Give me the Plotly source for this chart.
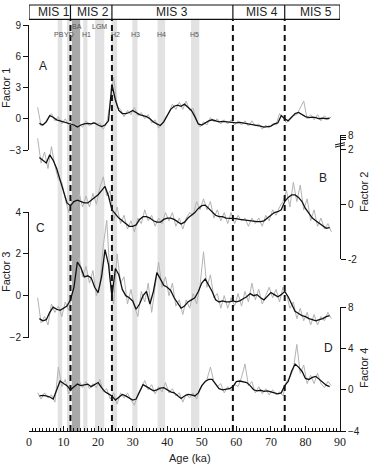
import plotly.graph_objects as go

# ---------------- data ----------------
AGE_SMOOTH = list(range(3, 88))
AGE_RAW = [a + 0.5 for a in range(2, 88)]

F1_SMOOTH = [-0.45, -0.6, -0.3, 0.3, 0.15, -0.1, -0.2, -0.3, -0.35, -0.45,
             -0.6, -0.8, -0.6, -0.5, -0.45, -0.5, -0.4, -0.6, -0.75, -0.6,
             -0.2, 3.3, 1.8, 0.8, 0.5, 0.5, 0.6, 0.8, 0.6, 0.4,
             0.3, 0.2, 0.0, -0.3, -0.5, -0.65, -0.3, 0.3, 0.9, 1.2,
             1.3, 1.2, 1.4, 1.1, 0.8, 0.2, -0.5, -0.6, -0.4, -0.2,
             -0.1, -0.2, -0.3, -0.25, -0.3, -0.3, -0.35, -0.4, -0.35, -0.4,
             -0.45, -0.5, -0.55, -0.6, -0.7, -0.8, -0.75, -0.7, -0.5, -0.4,
             0.3, 0.0, -0.2, 0.2, 0.5, 0.6, 0.4, 0.2, 0.1, 0.15,
             0.1, 0.0, 0.05, 0.0, 0.05]
F1_RAW = [1.1, -0.7, -0.4, 0.1, 0.5, -0.2, 0.2, -0.5, 0.0, -0.6,
          -0.2, -1.0, -0.5, -0.8, -0.2, -0.7, -0.3, -0.6, -0.4, -1.0,
          -0.4, 1.5, 4.0, 1.2, 0.9, 0.2, 0.8, 0.4, 1.1, 0.3,
          0.6, 0.0, 0.4, -0.4, -0.1, -0.9, -0.4, 0.1, 0.6, 1.4,
          0.9, 1.6, 0.9, 1.7, 0.8, 1.0, -0.2, -0.8, -0.3, -0.6,
          0.1, -0.3, 0.0, -0.5, -0.1, -0.5, -0.1, -0.6, -0.2, -0.6,
          -0.2, -0.7, -0.2, -0.7, -0.5, -1.0, -0.6, -0.9, -0.5, -0.6,
          0.5, 0.1, -0.4, 0.1, 0.3, 0.4, 1.0, 1.7, 0.0, 0.4,
          -0.1, 0.4, -0.2, 0.3, -0.1, 0.2]

F2_SMOOTH = [1.7, 1.6, 1.5, 1.8, 1.6, 1.3, 0.9, 0.5, 0.05, -0.05,
             0.1, 0.15, 0.1, 0.05, 0.05, 0.15, 0.25, 0.35, 0.5, 0.65,
             0.3, -0.2, -0.35, -0.5, -0.6, -0.7, -0.8, -0.8, -0.75, -0.55,
             -0.45, -0.45, -0.5, -0.6, -0.65, -0.65, -0.55, -0.5, -0.5, -0.55,
             -0.65, -0.72, -0.65, -0.5, -0.4, -0.3, -0.15, -0.05, -0.03, -0.15,
             -0.3, -0.4, -0.45, -0.45, -0.5, -0.5, -0.5, -0.52, -0.55, -0.57,
             -0.57, -0.6, -0.62, -0.63, -0.63, -0.6, -0.5, -0.4, -0.3, -0.27,
             -0.2, 0.1, 0.25, 0.34, 0.34, 0.25, 0.1, -0.15, -0.33, -0.5,
             -0.6, -0.69, -0.8, -0.87, -0.85]
F2_RAW = [2.4, 1.5, 1.9, 1.3, 2.1, 1.4, 0.9, 0.8, 0.2, -0.3,
          0.2, -0.1, 0.4, -0.1, 0.3, -0.1, 0.4, 0.0, 0.6, 1.0,
          0.3, 0.5, -0.6, -0.1, -0.7, -0.4, -0.9, -0.6, -1.0, -0.5,
          -0.7, -0.2, -0.6, -0.4, -0.8, -0.5, -0.7, -0.3, -0.6, -0.3,
          -0.8, -0.5, -0.9, -0.5, -0.3, -0.4, 0.1, -0.2, 0.2, -0.2,
          0.1, -0.5, -0.2, -0.6, -0.3, -0.7, -0.3, -0.7, -0.4, -0.6,
          -0.5, -0.8, -0.5, -0.7, -0.5, -0.8, -0.4, -0.6, -0.2, -0.4,
          -0.1, 0.1, 0.5, -0.1, 0.8, 0.1, 0.7, -0.2, 0.2, -0.6,
          -0.2, -0.8, -0.5, -0.9, -0.7, -1.0]

F3_SMOOTH = [-1.1, -1.2, -1.15, -0.8, -0.55, -0.65, -0.7, -0.6, -0.5, -0.2,
             0.4, 1.6, 1.35, 0.9, 0.95, 0.85, 0.4, 0.15, 0.9, 2.2,
             1.5, -0.05, 1.3, 1.0, 0.3, 0.0, -0.1, -0.25, -0.65, -0.4,
             0.0, 0.2, -0.4, 0.2, 1.1, 0.8, 0.5, 0.4, 0.25, -0.1,
             -0.35, -0.6, -0.5, -0.3, -0.2, -0.1, 0.2, 0.6, 0.8, 0.5,
             0.2, -0.2, -0.3, -0.25, -0.3, -0.3, -0.25, -0.3, -0.25, -0.15,
             -0.05, 0.1, 0.0, 0.05, -0.1, -0.2, 0.0, 0.15, 0.05, -0.05,
             0.05, 0.2, -0.05, -0.4, -0.75, -0.85, -0.95, -1.0, -1.1, -1.15,
             -1.2, -1.15, -1.1, -1.0, -0.95]
F3_RAW = [-0.1, -1.3, -1.0, -1.4, -0.4, -0.8, -0.5, -1.0, -0.3, -0.7,
          0.1, 1.0, 1.8, 0.9, 1.4, 0.6, 1.2, 0.0, 0.5, 2.4,
          3.6, 0.8, -0.4, 2.0, 0.6, 0.9, -0.4, 0.3, -0.5, -1.0,
          0.2, -0.3, 0.6, -0.8, 0.5, 1.6, 0.4, 0.9, 0.0, 0.6,
          -0.5, -0.2, -0.9, -0.2, -0.6, 0.1, -0.4, 0.5, 2.1, 0.4,
          1.0, -0.1, 0.1, -0.6, 0.0, -0.6, -0.1, -0.5, 0.1, -0.5,
          0.2, -0.3, 0.6, -0.2, 0.3, -0.4, 0.0, 0.4, -0.1, 0.3,
          -0.3, 0.4, 0.1, -0.6, -0.3, -1.1, -0.6, -1.2, -0.8, -1.4,
          -0.9, -1.4, -1.0, -1.2, -0.8, -1.1]

F4_SMOOTH = [-0.6, -0.55, -0.6, -0.7, -0.9, 0.0, 0.85, 0.6, 0.4, 0.0,
             0.3, 0.55, 0.4, 0.5, 0.55, 0.3, 0.5, 0.7, 0.2, -0.2,
             -0.4, -0.6, -1.0, -0.7, -0.45, -0.6, -0.8, -1.0, -0.9, -0.2,
             0.5, 0.3, 0.1, -0.1, 0.0, 0.15, 0.2, 0.0, -0.2, -0.3,
             -0.6, -0.85, -0.6, -0.45, -0.5, -0.6, -0.3, 0.4, 0.8, 1.0,
             1.0, 0.6, 0.1, 0.0, 0.05, 0.1, 0.3, 0.8, 0.85, 0.8,
             0.7, 0.4, 0.0, -0.1, -0.05, -0.15, -0.1, -0.2, -0.3, -0.4,
             -0.3, 0.4, 0.8, 1.8, 2.5, 2.2, 1.8, 1.1, 1.0, 1.2,
             1.3, 1.0, 0.7, 0.45, 0.3]
F4_RAW = [-0.3, -0.9, -0.3, -0.8, -0.5, -1.2, 2.2, 0.3, 1.0, -0.4,
          0.3, -0.3, 0.9, 0.2, 0.8, 0.1, 0.6, 0.2, 1.0, -0.2,
          0.1, -0.9, -0.3, -1.4, -0.3, -0.8, -0.3, -1.0, -1.5, -0.4,
          0.2, 0.9, 0.0, 0.5, -0.4, 0.3, -0.2, 0.7, -0.3, 0.1,
          -0.6, -0.3, -1.2, -0.4, -0.8, -0.3, -0.9, 0.1, 0.6, 1.0,
          2.2, 0.8, 0.3, 0.6, -0.3, 0.3, -0.1, 0.5, 0.3, 1.2,
          2.5, 0.4, 0.8, -0.3, 0.3, -0.4, 0.1, -0.5, 0.0, -0.5,
          -0.2, -0.6, 0.8, 1.2, 2.0, 4.4, 1.6, 2.4, 0.6, 1.4,
          0.6, 1.6, 0.6, 0.2, 0.8, 0.4]

MIS_BOUNDS = [12, 24, 59, 74]
MIS_LABELS = ["MIS 1", "MIS 2", "MIS 3", "MIS 4", "MIS 5"]
MIS_LABEL_AGE = [7.2, 18.6, 41.4, 67.3, 83.0]

BAND_START = [8.3, 11.0, 12.4, 15.7, 19.1, 23.9, 29.9, 37.2, 46.9]
BAND_END = [9.6, 12.0, 14.8, 16.9, 21.8, 25.5, 31.4, 39.4, 49.3]
BAND_DARK = [False, False, True, False, False, False, False, False, False]

EVENT_LABELS = ["PB", "YD", "BA", "H1", "LGM", "H2", "H3", "H4", "H5"]
EVENT_AGE = [8.8, 11.7, 13.8, 16.5, 20.3, 25.1, 30.7, 38.4, 48.0]
EVENT_HIGH = [False, False, True, False, True, False, False, False, False]

# ---------------- geometry helpers (pixel -> paper) ----------------
L, R, T, B = 29, 30, 5, 33
W, H = 370, 464
PW, PH = W - L - R, H - T - B


def xp(px):
    return (px - L) / PW


def yp(py):
    return (H - B - py) / PH


SANS = "Liberation Sans, Arial, sans-serif"
SERIF = "Liberation Serif, Times New Roman, serif"
INK = "#222222"
GRAY_LINE = "#b3b3b3"

fig = go.Figure()
series = [(F1_RAW, F1_SMOOTH, "y"), (F2_RAW, F2_SMOOTH, "y2"),
          (F3_RAW, F3_SMOOTH, "y3"), (F4_RAW, F4_SMOOTH, "y4")]
for raw, sm, ax in series:
    fig.add_trace(go.Scatter(x=AGE_RAW, y=raw, mode="lines", yaxis=ax, xaxis="x",
                             line=dict(color=GRAY_LINE, width=1), hoverinfo="skip"))
    fig.add_trace(go.Scatter(x=AGE_SMOOTH, y=sm, mode="lines", yaxis=ax, xaxis="x",
                             line=dict(color="#111111", width=1.3), hoverinfo="skip"))

shapes = []
band_top = yp(20)
for s, e, dark in zip(BAND_START, BAND_END, BAND_DARK):
    shapes.append(dict(type="rect", xref="x", yref="paper", x0=s, x1=e, y0=0, y1=band_top,
                       fillcolor="#a9a9a9" if dark else "#e2e2e2", line=dict(width=0),
                       layer="below"))
for b in MIS_BOUNDS:
    shapes.append(dict(type="line", xref="x", yref="paper", x0=b, x1=b, y0=0, y1=band_top,
                       line=dict(color="#111111", width=2, dash="6px,4px"), layer="above"))
    shapes.append(dict(type="line", xref="x", yref="paper", x0=b, x1=b, y0=yp(19.3), y1=1,
                       line=dict(color="#111111", width=1.2)))
shapes.append(dict(type="rect", xref="x", yref="paper", x0=0, x1=90, y0=yp(19.3), y1=1,
                   line=dict(color="#111111", width=1.2), fillcolor="rgba(0,0,0,0)"))
# axis break marks on Factor 2 axis
for yy in [2.12, 2.2]:
    shapes.append(dict(type="line", xref="paper", yref="y2", x0=xp(335), x1=xp(345),
                       y0=yy - 0.04, y1=yy + 0.04, line=dict(color="#111111", width=1)))

ann = []
C = dict(xanchor="center", yanchor="middle", showarrow=False)
for lab, a in zip(MIS_LABELS, MIS_LABEL_AGE):
    ann.append(dict(x=a, y=yp(12.3), xref="x", yref="paper", text=lab,
                    font=dict(family=SANS, size=12, color=INK), **C))
for lab, a, hi in zip(EVENT_LABELS, EVENT_AGE, EVENT_HIGH):
    ann.append(dict(x=a, y=yp(26 if hi else 34.7), xref="x", yref="paper", text=lab,
                    font=dict(family=SANS, size=7, color="#555555"), **C))
for lab, px, py in [("A", 43, 66), ("B", 323, 178), ("C", 40, 228), ("D", 328, 348)]:
    ann.append(dict(x=xp(px), y=yp(py), xref="paper", yref="paper", text=lab,
                    font=dict(family=SANS, size=12, color=INK), **C))
for lab, px, py in [("Factor 1", 6, 88), ("Factor 2", 364, 192),
                    ("Factor 3", 6, 272), ("Factor 4", 364, 368)]:
    ann.append(dict(x=xp(px), y=yp(py), xref="paper", yref="paper", text=lab,
                    textangle=-90, font=dict(family=SANS, size=11, color=INK), **C))
ann.append(dict(x=xp(190), y=yp(458), xref="paper", yref="paper", text="Age (ka)",
                font=dict(family=SANS, size=11, color=INK), **C))

yax_common = dict(showline=True, linecolor="#111111", linewidth=1, ticks="outside",
                  ticklen=5, tickcolor="#111111", showgrid=False, zeroline=False,
                  tickfont=dict(family=SANS, size=10, color=INK), anchor="x",
                  automargin=False)

fig.update_layout(
    width=W, height=H, margin=dict(l=L, r=R, t=T, b=B, autoexpand=False),
    paper_bgcolor="white", plot_bgcolor="rgba(0,0,0,0)", showlegend=False,
    xaxis=dict(range=[0, 90], showline=True, linecolor="#111111", linewidth=1,
               ticks="inside", ticklen=5, tickcolor="#111111", dtick=10, tick0=0,
               minor=dict(ticks="inside", dtick=1, ticklen=3, tickcolor="#111111"),
               showgrid=False, zeroline=False, anchor="y4", automargin=False,
               tickfont=dict(family=SERIF, size=12, color=INK)),
    yaxis=dict(domain=[yp(150), yp(25)], range=[-3, 9], tickvals=[-3, 0, 3, 6, 9],
               side="left", **yax_common),
    yaxis2=dict(domain=[yp(259.3), yp(135)], range=[-2, 2.52],
                tickvals=[-2, 0, 2, 2.36, 2.44, 2.52], ticktext=["-2", "0", "2", "", "", "8"],
                side="right", **yax_common),
    yaxis3=dict(domain=[yp(337.5), yp(212)], range=[-2, 4], tickvals=[-2, 0, 2, 4],
                side="left", **yax_common),
    yaxis4=dict(domain=[0, yp(307.3)], range=[-4, 8], tickvals=[-4, 0, 4, 8],
                side="right", **yax_common),
    shapes=shapes, annotations=ann,
)

fig.write_html("out.html")
